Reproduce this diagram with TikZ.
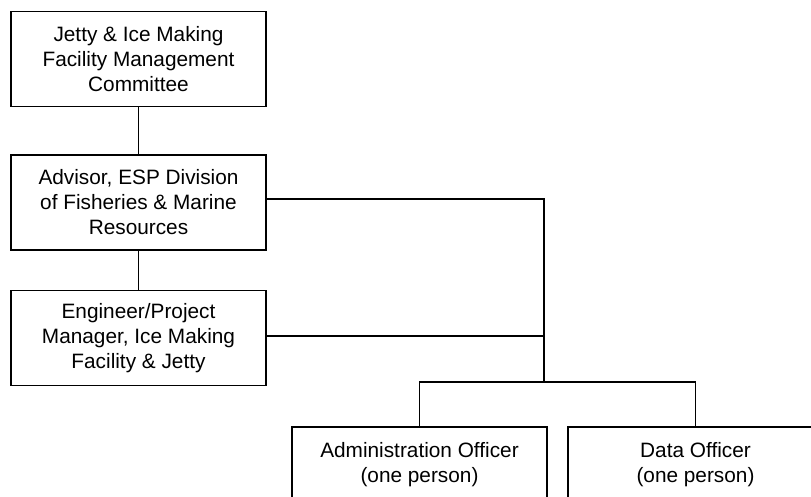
\documentclass[tikz,border=0pt]{standalone}
\usepackage{fontspec}
\setmainfont{Liberation Sans}
\tikzstyle{unit}=[rectangle,draw=black,line width=1.5pt,align=center,
  minimum width=255pt,minimum height=95pt,inner sep=0pt,
  font=\fontsize{20.8}{25}\selectfont]
\tikzstyle{link}=[line width=1.5pt]
\begin{document}
\begin{tikzpicture}[x=1pt,y=-1pt]
    \useasboundingbox (0, 0) rectangle (811, 497);
    \clip (0, 0) rectangle (811, 497);
    \node [style=unit] (committee) at (138.5, 59) {Jetty \& Ice Making\\Facility Management\\Committee};
    \node [style=unit] (advisor) at (138.5, 202.5) {Advisor, ESP Division\\of Fisheries \& Marine\\Resources};
    \node [style=unit] (engineer) at (138.5, 338) {Engineer/Project\\Manager, Ice Making\\Facility \& Jetty};
    \node [style=unit] (admin) at (419.5, 474.5) {Administration Officer\\(one person)\\\mbox{}};
    \node [style=unit] (data) at (695.5, 474.5) {Data Officer\\(one person)\\\mbox{}};
    \coordinate (hub) at (544, 382);
    \draw [style=link] (committee) to (advisor);
    \draw [style=link] (advisor) to (engineer);
    \draw [style=link] ([yshift=3.5pt]advisor.east) -| (hub);
    \draw [style=link] ([yshift=2pt]engineer.east) -- ([yshift=2pt]engineer.east -| hub);
    \draw [style=link] (admin.north) -- (admin.north |- hub) -- (data.north |- hub) -- (data.north);
\end{tikzpicture}
\end{document}
